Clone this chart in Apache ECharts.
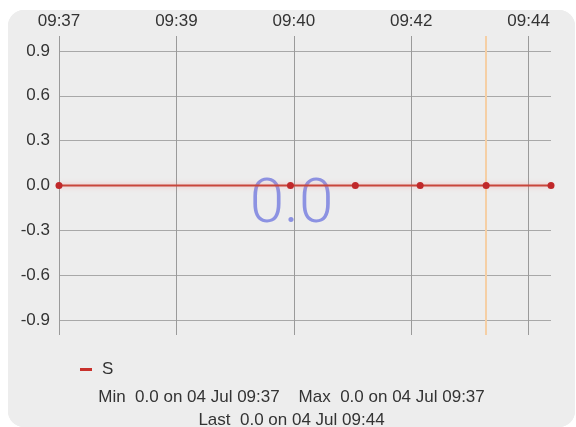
<!DOCTYPE html>
<html>
<head>
<meta charset="utf-8">
<script src="https://cdn.jsdelivr.net/npm/echarts@6/dist/echarts.min.js"></script>
<style>
html,body{margin:0;padding:0;background:#ffffff;width:576px;height:427px;overflow:hidden;}
#card{position:absolute;left:8px;top:10px;width:567px;height:417px;border-radius:16px;overflow:hidden;background:#ededed;}
#chart{width:567px;height:417px;}
</style>
</head>
<body>
<div id="card"><div id="chart"></div></div>
<script>
// ---- data ----
const seriesName = 'S';
const times = ['09:37:20', '09:40:47', '09:41:45', '09:42:43', '09:43:42', '09:44:40'];
const values = [0.0, 0.0, 0.0, 0.0, 0.0, 0.0];
const axisStart = '09:37:20';
const axisEnd = '09:44:40';
const tickStepSec = 105;
const yTicks = [-0.9, -0.6, -0.3, 0.0, 0.3, 0.6, 0.9];
const markerTime = '09:43:42';
const bigValue = '0.0';
const statsLine1 = 'Min  0.0 on 04 Jul 09:37    Max  0.0 on 04 Jul 09:37';
const statsLine2 = 'Last  0.0 on 04 Jul 09:44';

function toSec(t){const p=t.split(':').map(Number);return p[0]*3600+p[1]*60+(p[2]||0);}
const t0 = toSec(axisStart);
const t1 = toSec(axisEnd);
const xTicks = [];
for (let s = 0; s <= t1 - t0; s += tickStepSec) xTicks.push(s);
function fmt(off){const s=t0+off;const h=Math.floor(s/3600),m=Math.floor((s%3600)/60);return String(h).padStart(2,'0')+':'+String(m).padStart(2,'0');}
const data = times.map((t,i)=>[toSec(t)-t0, values[i]]);

const FONT = 'Liberation Sans';
const chart = echarts.init(document.getElementById('chart'));
chart.setOption({
  animation:false,
  backgroundColor:'#ededed',
  textStyle:{fontFamily:FONT},
  grid:{left:51,top:26,right:24,bottom:92,containLabel:false},
  legend:{
    left:67, top:346,
    icon:'rect', itemWidth:12, itemHeight:3, itemGap:10,
    textStyle:{fontSize:17,color:'#333',fontFamily:FONT,padding:[0,0,0,5]},
    data:[{name:seriesName, itemStyle:{color:'#c8312c'}}]
  },
  xAxis:{
    type:'value', position:'top', min:0, max:t1-t0,
    axisLine:{show:true,lineStyle:{color:'#9a9a9a',width:1}},
    axisTick:{show:false, customValues:xTicks},
    axisLabel:{customValues:xTicks, formatter:v=>fmt(v), color:'#333', fontSize:17, margin:6, fontFamily:FONT},
    splitLine:{show:true,lineStyle:{color:'#9a9a9a',width:1}}
  },
  yAxis:{
    type:'value', min:-1, max:1,
    axisLine:{show:false},
    axisTick:{show:false, customValues:yTicks},
    axisLabel:{customValues:yTicks, formatter:v=>v.toFixed(1), color:'#333', fontSize:17, margin:9, fontFamily:FONT},
    splitLine:{show:true,lineStyle:{color:'#a8a8a8',width:1}}
  },
  graphic:[
    {type:'text', left:'center', top:165, z:-1, silent:true,
     style:{text:bigValue, fontSize:62, fontWeight:300, fill:'#8c92e2', fontFamily:'Roboto'}},
    {type:'text', left:'center', top:379, silent:true,
     style:{text:statsLine1, fontSize:17, fill:'#333', fontFamily:FONT}},
    {type:'text', left:'center', top:402, silent:true,
     style:{text:statsLine2, fontSize:17, fill:'#333', fontFamily:FONT}}
  ],
  series:[{
    name:'marker', type:'line', data:[], z:1, silent:true,
    markLine:{
      z:1, silent:true, symbol:['none','none'], label:{show:false},
      lineStyle:{color:'#f5cfa5', width:2, type:'solid'},
      data:[{xAxis: toSec(markerTime)-t0}]
    }
  },{
    name:seriesName, type:'line', data:data,
    symbol:'circle', symbolSize:7,
    itemStyle:{color:'#c0282a'},
    lineStyle:{color:'#c8453a', width:2, shadowColor:'rgba(245,120,120,0.55)', shadowBlur:5},
    z:3
  }]
});
</script>
</body>
</html>
